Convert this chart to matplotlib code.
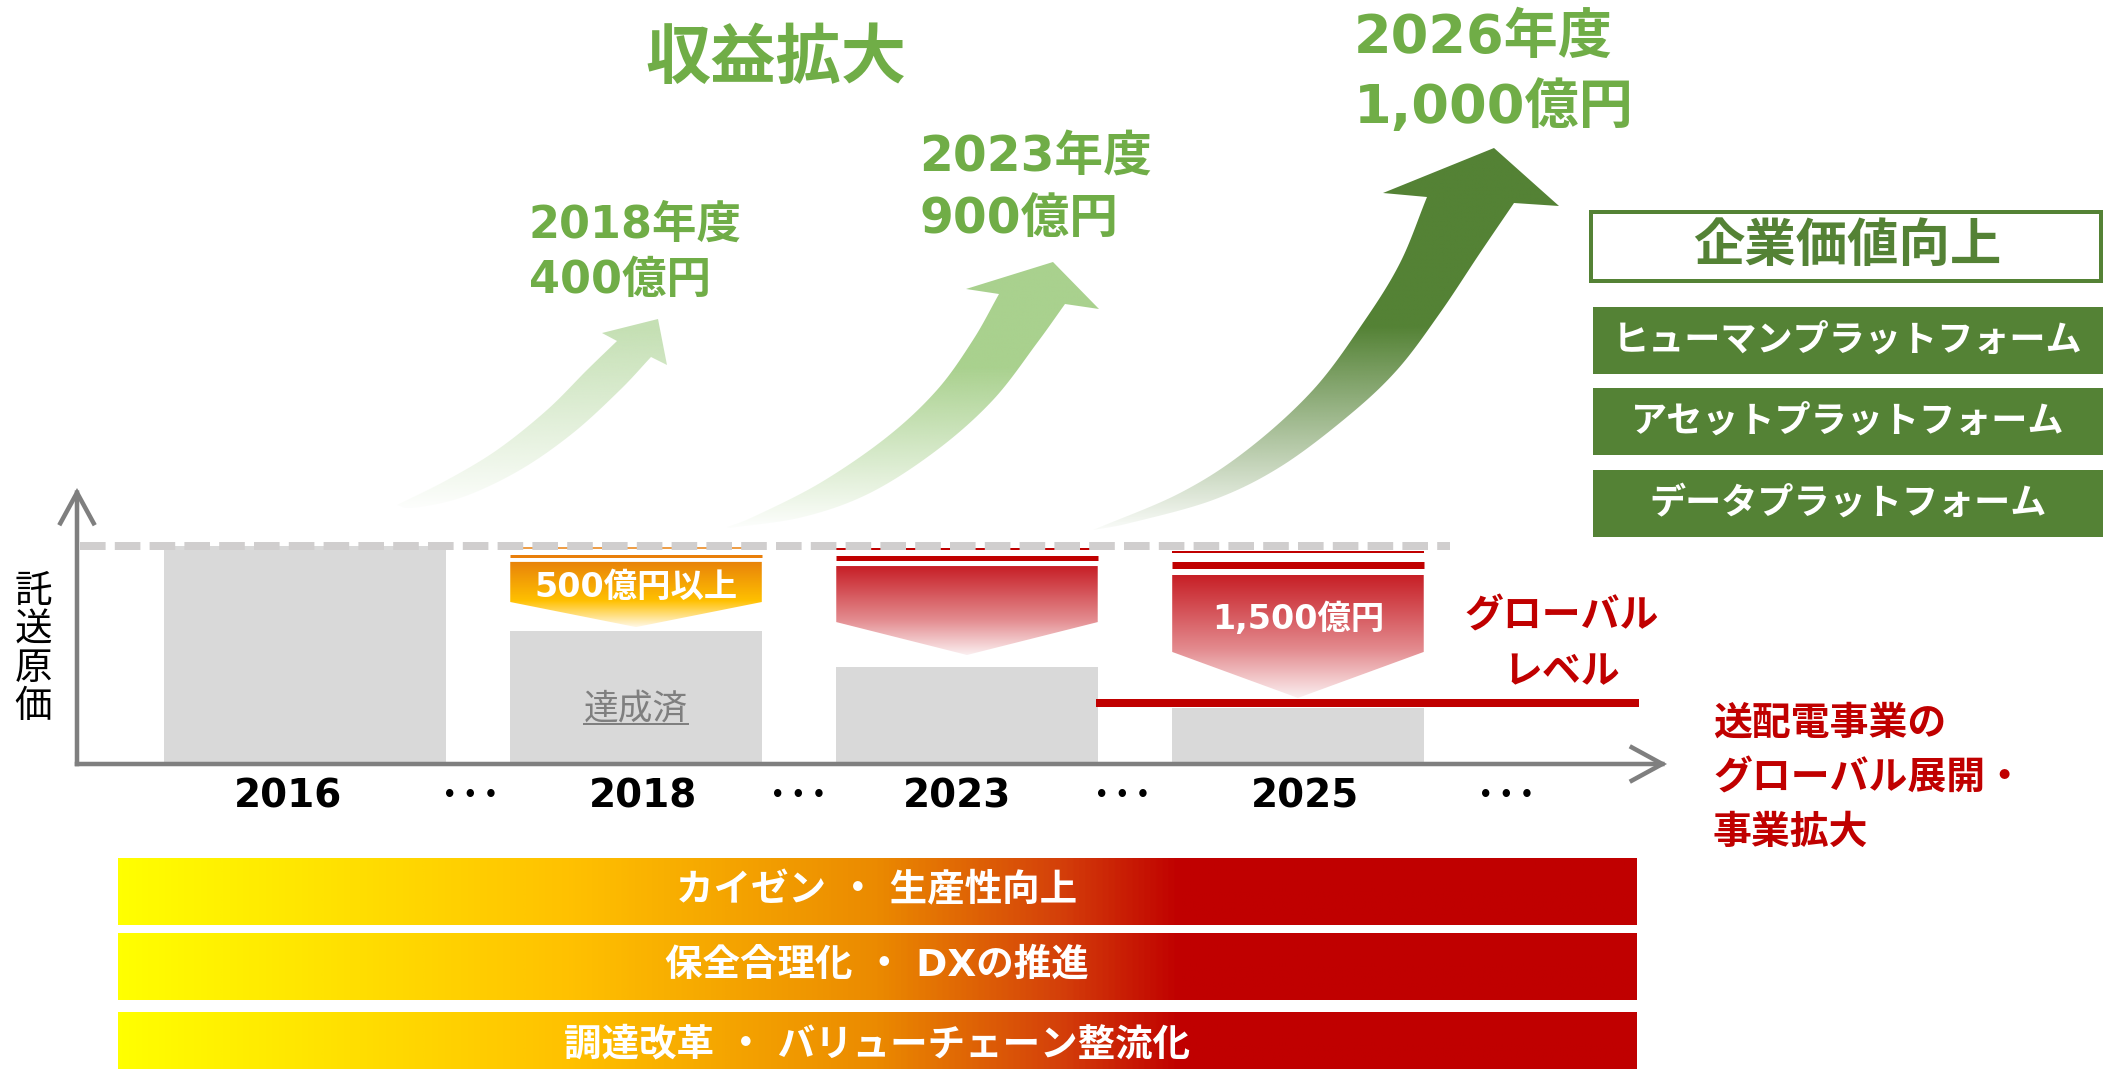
import numpy as np
import matplotlib
matplotlib.use("Agg")
import matplotlib.pyplot as plt
from matplotlib.patches import Polygon, Rectangle, FancyArrowPatch
from matplotlib.colors import LinearSegmentedColormap, to_rgb

plt.rcParams['font.family'] = ['DejaVu Sans', 'Noto Sans CJK JP']

# ---- data ----
years = ["2016", "2018", "2023", "2025"]
cost_index = [100, 61, 44.5, 25.7]            # 託送原価, 2016 = 100
cut_labels = ["500億円以上", "", "1,500億円"]   # reduction arrows over 2018 / 2023 / 2025
global_level = 28
achieved = "達成済"
y_label = "託送原価"

headline = "収益拡大"
rev_years = ["2018年度", "2023年度", "2026年度"]
rev_amounts = ["400億円", "900億円", "1,000億円"]

value_title = "企業価値向上"
platforms = ["ヒューマンプラットフォーム", "アセットプラットフォーム", "データプラットフォーム"]
initiatives = ["カイゼン ・ 生産性向上", "保全合理化 ・ DXの推進", "調達改革 ・ バリューチェーン整流化"]
global_tag = ["グローバル", "レベル"]
global_note = ["送配電事業の", "グローバル展開・", "事業拡大"]

# ---- layout / style ----
W, H = 2103, 1069
PT = 0.72                      # points per pixel at dpi 100
GREEN, LGREEN, RED, GRAY = "#548235", "#70AD47", "#C00000", "#7F7F7F"

bar_w = [0.85, 0.76, 0.79, 0.76]
tick_off = [-0.05, 0.02, -0.03, 0.02]
dots_x = [0.5, 1.49, 2.47, 3.63]
cut_geom = [(92.7, 74.3, 62.8), (90.8, 65.1, 50.0), (86.7, 51.4, 30.3)]   # block top, shoulder, tip
cut_lines = [((99.1, 1.5), (95.6, 3)), ((98.6, 2), (94.3, 5)), ((97.2, 2), (91.5, 7))]

# curved growth arrows, figure pixels (y down)
rise_arrows = [
    dict(left=[(397, 505), (447, 480), (497, 450), (547, 410), (587, 370), (617, 341)],
         head=[(602, 333), (658, 319), (667, 365)],
         right=[(651, 357), (620, 390), (573, 433), (520, 470), (463, 497), (413, 508), (397, 505)],
         color="#C5E0B4", solid=330, clear=515),
    dict(left=[(727, 527), (753, 517), (820, 483), (887, 437), (937, 390), (973, 340), (999, 294)],
         head=[(966, 289), (1053, 262), (1099, 309)],
         right=[(1065, 304), (1037, 343), (993, 400), (937, 450), (870, 493), (803, 517), (730, 528)],
         color="#A9D18E", solid=367, clear=532),
    dict(left=[(1093, 530), (1180, 493), (1247, 450), (1313, 390), (1363, 323), (1400, 263), (1427, 197)],
         head=[(1383, 193), (1494, 148), (1559, 206)],
         right=[(1514, 203), (1480, 253), (1440, 313), (1397, 370), (1347, 417), (1280, 467),
                (1213, 500), (1130, 523), (1093, 530)],
         color=GREEN, solid=327, clear=537),
]
rev_pos = [(529, 225, 280, 32), (919, 157, 219, 35), (1354, 38, 107, 39)]


def catmull(pts, n=16):
    p = np.asarray(pts, float)
    p = np.vstack([2*p[0]-p[1], p, 2*p[-1]-p[-2]])
    t = np.linspace(0, 1, n, endpoint=False)[:, None]
    out = []
    for i in range(1, len(p)-2):
        p0, p1, p2, p3 = p[i-1], p[i], p[i+1], p[i+2]
        out.append(0.5*(2*p1 + (p2-p0)*t + (2*p0-5*p1+4*p2-p3)*t**2 + (3*p1-p0-3*p2+p3)*t**3))
    out.append(p[-2][None])
    return np.vstack(out)


fig = plt.figure(figsize=(W/100, H/100), dpi=100)
ov = fig.add_axes([0, 0, 1, 1], zorder=0)
ov.axis("off")

# growth arrows with fade-out
for a in rise_arrows:
    outline = np.vstack([catmull(a["left"]), a["head"], catmull(a["right"])])
    poly = Polygon(outline, closed=True, fc="none", ec="none")
    ov.add_patch(poly)
    x0, y0 = outline.min(0)
    x1, y1 = outline.max(0)
    ys = np.linspace(y0, y1, 300)
    img = np.zeros((300, 2, 4))
    img[..., :3] = to_rgb(a["color"])
    img[..., 3] = np.clip((a["clear"]-ys)/(a["clear"]-a["solid"]), 0, 1)[:, None]
    im = ov.imshow(img, extent=(x0, x1, y1, y0), origin="upper", aspect="auto",
                   interpolation="bilinear", zorder=1)
    im.set_clip_path(poly)

ov.text(776, 60, headline, color=LGREEN, fontsize=47, fontweight="bold", ha="center", va="center")
for yr, amt, (tx, ty1, ty2, fs) in zip(rev_years, rev_amounts, rev_pos):
    ov.text(tx, ty1, yr, color=LGREEN, fontsize=fs, fontweight="bold", ha="left", va="center")
    ov.text(tx, ty2, amt, color=LGREEN, fontsize=fs, fontweight="bold", ha="left", va="center")

# right column boxes
ov.add_patch(Rectangle((1591, 212), 510, 69, fc="white", ec=GREEN, lw=4*PT, zorder=2))
ov.text(1847, 247, value_title, color=GREEN, fontsize=37, fontweight="bold", ha="center", va="center", zorder=3)
for top, txt in zip([307, 388, 470], platforms):
    ov.add_patch(Rectangle((1593, top), 520, 67, fc=GREEN, ec="none", zorder=2))
    ov.text(1848, top+33, txt, color="white", fontsize=26, fontweight="bold", ha="center", va="center", zorder=3)

# y label
for i, ch in enumerate(y_label):
    ov.text(33, 592+38.5*i, ch, color="black", fontsize=27, ha="center", va="center")

for i, txt in enumerate(global_tag):
    ov.text(1562, 617+55*i, txt, color=RED, fontsize=28, fontweight="bold", ha="center", va="center")
for i, txt in enumerate(global_note):
    ov.text(1713, 724+54.5*i, txt, color=RED, fontsize=28, fontweight="bold", ha="left", va="center")

# initiative bands
band_cm = LinearSegmentedColormap.from_list("band", [(0, "#FFFF00"), (0.3, "#FFC000"), (0.5, "#EB8A00"),
                                                     (0.62, "#D4400A"), (0.7, "#C00000"), (1, "#C00000")])
for top, txt in zip([858, 933, 1012], initiatives):
    ov.imshow(np.linspace(0, 1, 512)[None, :], cmap=band_cm, extent=(118, 1637, top+67, top),
              origin="upper", aspect="auto", zorder=1)
    ov.text(877, top+33, txt, color="white", fontsize=27, fontweight="bold", ha="center", va="center", zorder=3)

ov.set_xlim(0, W)
ov.set_ylim(H, 0)

# ---- main cost chart ----
ax = fig.add_axes([77/W, (H-764)/H, (1667-77)/W, (764-488)/H], zorder=2)
ax.patch.set_alpha(0)
for s in ax.spines.values():
    s.set_visible(False)

x = np.arange(len(years))
ax.bar(x, cost_index, width=bar_w, color="#D9D9D9", zorder=1)
ax.plot([-0.68, 3.46], [cost_index[0], cost_index[0]], color="#D0CECE", lw=8*PT,
        ls=(0, (3.2, 1.15)), dash_capstyle="butt", zorder=3)

orange_cm = LinearSegmentedColormap.from_list("o", [(0, "#E8820A"), (0.6, "#FFC000"), (1, "#FFF8E6")])
red_cm = LinearSegmentedColormap.from_list("r", [(0, "#C71F26"), (0.6, "#E38A8E"), (1, "#FBEFF0")])
for k, (lab, (top, sh, tip)) in enumerate(zip(cut_labels, cut_geom)):
    i = k + 1
    xl, xr = x[i]-bar_w[i]/2, x[i]+bar_w[i]/2
    cm = orange_cm if k == 0 else red_cm
    lc = "#E97F0B" if k == 0 else RED
    poly = Polygon([(xl, top), (xr, top), (xr, sh), (x[i], tip), (xl, sh)], closed=True, fc="none", ec="none")
    ax.add_patch(poly)
    im = ax.imshow(np.linspace(0, 1, 256)[:, None], cmap=cm, extent=(xl, xr, tip, top),
                   origin="upper", aspect="auto", zorder=2)
    im.set_clip_path(poly)
    for yy, lw in cut_lines[k]:
        ax.plot([xl, xr], [yy, yy], color=lc, lw=lw*PT, solid_capstyle="butt", zorder=2)
    if lab:
        ax.text(x[i], (top+sh)/2-2.5, lab, color="white", fontsize=24, fontweight="bold",
                ha="center", va="center", zorder=4)

ax.plot([2.39, 4.03], [global_level, global_level], color=RED, lw=8*PT, solid_capstyle="butt", zorder=3)

ach_y = 25.6
t_ach = ax.text(x[1], ach_y, achieved, color=GRAY, fontsize=25, ha="center", va="center", zorder=4)

ax.set_xticks(x + np.array(tick_off), years)
ax.tick_params(axis="x", length=0, pad=10, labelsize=28)
for lbl in ax.get_xticklabels():
    lbl.set_fontweight("bold")
ax.set_yticks([])
for dx in dots_x:
    ax.text(dx, -14.3, "• • •", fontsize=15, fontweight="bold", ha="center", va="center", clip_on=False)

for end in [(0, 1), (1, 0)]:
    ax.add_patch(FancyArrowPatch((0, 0), end, transform=ax.transAxes,
                                 arrowstyle="->,head_length=22,head_width=12", mutation_scale=1,
                                 lw=4.5*PT, color=GRAY, shrinkA=0, shrinkB=0, clip_on=False,
                                 capstyle="projecting", joinstyle="miter", zorder=5))

ax.set_xlim(-0.689, 4.115)
ax.set_ylim(0, 126.6)

# underline for 達成済
fig.canvas.draw()
bb = t_ach.get_window_extent()
inv = ax.transData.inverted()
ux0 = inv.transform((bb.x0, 0))[0]
ux1 = inv.transform((bb.x1, 0))[0]
ax.plot([ux0, ux1], [ach_y-7.3, ach_y-7.3], color=GRAY, lw=2*PT, zorder=4)
ax.set_xlim(-0.689, 4.115)
ax.set_ylim(0, 126.6)

fig.savefig("out.png", dpi=100)
